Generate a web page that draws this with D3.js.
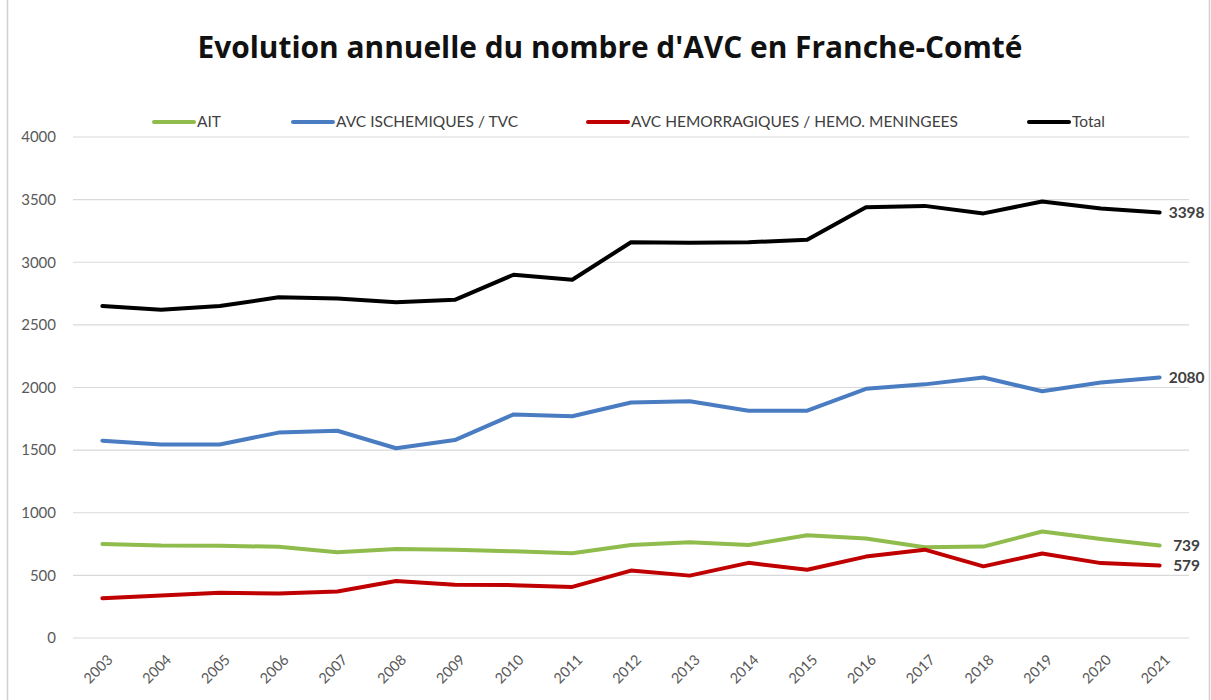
<!DOCTYPE html>
<html>
<head>
<meta charset="utf-8">
<script src="https://cdn.jsdelivr.net/npm/d3@7"></script>
<style>
  body { margin: 0; background: #fff; }
  svg text { font-family: Lato, "Open Sans", sans-serif; }
</style>
</head>
<body>
<div id="chart"></div>
<script>
// Data
const years = ["2003", "2004", "2005", "2006", "2007", "2008", "2009", "2010", "2011", "2012",
               "2013", "2014", "2015", "2016", "2017", "2018", "2019", "2020", "2021"];
const ait = [750, 738, 737, 728, 685, 710, 705, 692, 676, 742, 765, 742, 820, 795, 725, 730, 850, 790, 739];
const avcIsch = [1575, 1545, 1545, 1640, 1655, 1515, 1580, 1785, 1770, 1880, 1890, 1815, 1815, 1990, 2025, 2080, 1970, 2040, 2080];
const avcHemo = [318, 340, 362, 355, 372, 455, 425, 422, 408, 538, 498, 600, 545, 650, 705, 572, 675, 598, 579];
const total = [2650, 2620, 2650, 2720, 2710, 2680, 2700, 2900, 2860, 3160, 3155, 3160, 3180, 3440, 3450, 3390, 3485, 3430, 3398];
const yTicks = [0, 500, 1000, 1500, 2000, 2500, 3000, 3500, 4000];

const series = [
    { name: "AIT", values: ait, color: "#8fbc4c" },
    { name: "AVC ISCHEMIQUES / TVC", values: avcIsch, color: "#4a7cc2" },
    { name: "AVC HEMORRAGIQUES / HEMO. MENINGEES", values: avcHemo, color: "#c00000" },
    { name: "Total", values: total, color: "#000000" }
];

const W = 1211, H = 700;
const margin = { top: 137, right: 22, bottom: 62, left: 73 };
const width = W - margin.left - margin.right;
const height = H - margin.top - margin.bottom;

const root = d3.select("#chart").append("svg")
    .attr("width", W)
    .attr("height", H);

// Outer frame of the chart area
root.append("line").attr("x1", 7.5).attr("x2", 7.5).attr("y1", 0).attr("y2", H)
    .attr("stroke", "#d0d0d0").attr("stroke-width", 1.5);
root.append("line").attr("x1", 1209.5).attr("x2", 1209.5).attr("y1", 0).attr("y2", H)
    .attr("stroke", "#d0d0d0").attr("stroke-width", 1.5);

// Title, fitted to the reference width
const title = root.append("text")
    .attr("x", 610)
    .attr("y", 58)
    .attr("text-anchor", "middle")
    .style("font-family", "'Open Sans', sans-serif")
    .style("font-weight", "bold")
    .style("font-size", "28px")
    .style("fill", "#111")
    .text("Evolution annuelle du nombre d'AVC en Franche-Comté");
const tw = title.node().getComputedTextLength();
title.style("font-size", (28 * 825 / tw).toFixed(2) + "px");

const svg = root.append("g")
    .attr("transform", `translate(${margin.left},${margin.top})`);

const x = d3.scalePoint()
    .domain(years)
    .range([0, width])
    .padding(0.5);

const y = d3.scaleLinear()
    .domain([0, 4000])
    .range([height, 0]);

// Gridlines
svg.append("g")
    .selectAll("line")
    .data(yTicks)
    .enter()
    .append("line")
    .attr("x1", 0)
    .attr("x2", width)
    .attr("y1", (d) => y(d))
    .attr("y2", (d) => y(d))
    .attr("stroke", "#d9d9d9")
    .attr("stroke-width", 1.2);

// Y axis
const yAxis = svg.append("g")
    .call(d3.axisLeft(y).tickValues(yTicks).tickFormat(d3.format("d")).tickSize(0).tickPadding(17));
yAxis.select(".domain").remove();
yAxis.selectAll("text")
    .style("font-size", "15px")
    .style("fill", "#595959");

// X axis
const xAxis = svg.append("g")
    .attr("transform", `translate(0,${height})`)
    .call(d3.axisBottom(x).tickSize(0));
xAxis.select(".domain").remove();
xAxis.selectAll("text")
    .attr("transform", "translate(5,17) rotate(-45)")
    .attr("dy", "0.35em")
    .style("text-anchor", "end")
    .style("font-size", "14.5px")
    .style("fill", "#595959");

// Lines
const line = d3.line()
    .x((d, i) => x(years[i]))
    .y((d) => y(d));

svg.selectAll(".serie")
    .data(series)
    .enter()
    .append("path")
    .attr("class", "serie")
    .attr("fill", "none")
    .attr("stroke", (d) => d.color)
    .attr("stroke-width", 4)
    .attr("stroke-linejoin", "round")
    .attr("stroke-linecap", "round")
    .attr("d", (d) => line(d.values));

// End-of-line labels
const last = years.length - 1;
svg.selectAll(".end-label")
    .data(series)
    .enter()
    .append("text")
    .attr("class", "end-label")
    .attr("x", x(years[last]) + 27)
    .attr("y", (d) => y(d.values[last]))
    .attr("dy", "0.35em")
    .attr("text-anchor", "middle")
    .style("font-size", "15.5px")
    .style("font-weight", "bold")
    .style("fill", "#404040")
    .text((d) => d.values[last]);

// Legend
const legendX = [154, 293, 588, 1029];
const legend = root.append("g")
    .selectAll("g")
    .data(series)
    .enter()
    .append("g")
    .attr("transform", (d, i) => `translate(${legendX[i]},122)`);
legend.append("line")
    .attr("x1", 0)
    .attr("x2", 40)
    .attr("stroke", (d) => d.color)
    .attr("stroke-width", 4)
    .attr("stroke-linecap", "round");
legend.append("text")
    .attr("x", 43)
    .attr("dy", "0.35em")
    .style("font-size", "15.5px")
    .style("fill", "#404040")
    .text((d) => d.name);
</script>
</body>
</html>
